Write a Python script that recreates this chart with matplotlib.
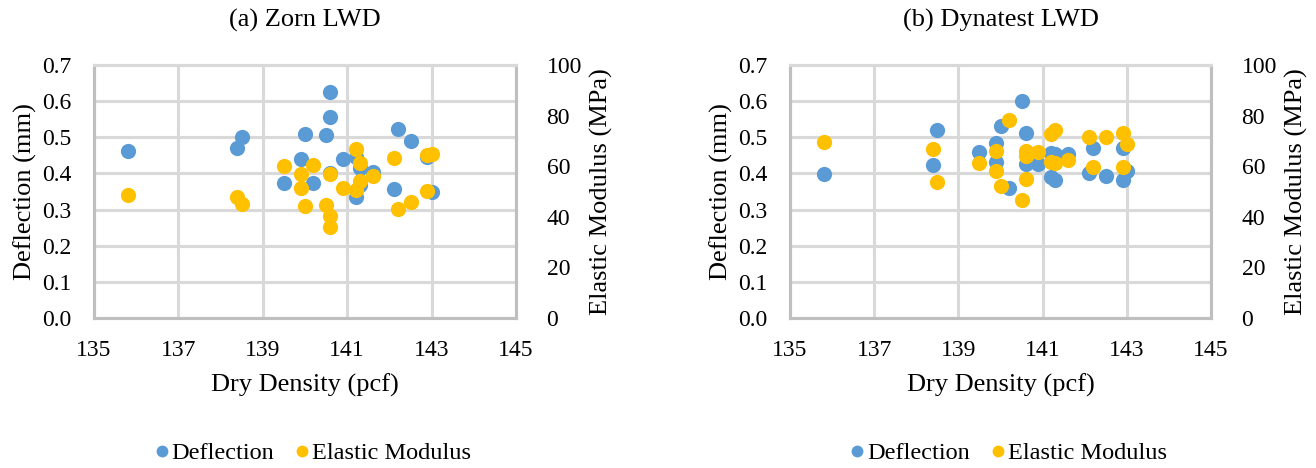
import matplotlib
matplotlib.use("Agg")
import matplotlib.pyplot as plt
from matplotlib.lines import Line2D

plt.rcParams["font.family"] = ["Liberation Serif", "DejaVu Serif"]

# (a) Zorn LWD
zorn_defl_density = [135.8, 138.4, 138.5, 139.5, 139.9, 140.0, 140.2, 140.5, 140.6, 140.6,
                     140.6, 140.9, 141.2, 141.2, 141.3, 141.3, 141.6, 142.1, 142.2, 142.5,
                     142.9, 143.0]
zorn_deflection = [0.462, 0.470, 0.501, 0.374, 0.439, 0.508, 0.373, 0.506, 0.626, 0.557,
                   0.400, 0.439, 0.446, 0.336, 0.414, 0.368, 0.403, 0.356, 0.523, 0.490,
                   0.446, 0.348]
zorn_mod_density = [135.8, 138.4, 138.5, 139.5, 139.9, 139.9, 140.0, 140.2, 140.5, 140.6,
                    140.6, 140.6, 140.9, 141.2, 141.2, 141.3, 141.3, 141.6, 142.1, 142.2,
                    142.5, 142.9, 142.9, 143.0]
zorn_modulus = [48.5, 47.7, 45.0, 60.1, 56.9, 51.3, 44.3, 60.5, 44.7, 56.8,
                40.3, 35.8, 51.3, 66.7, 50.6, 61.1, 54.2, 56.1, 63.4, 43.1,
                46.0, 64.4, 50.3, 64.8]

# (b) Dynatest LWD
dyna_defl_density = [135.8, 138.4, 138.5, 139.5, 139.9, 139.9, 140.0, 140.2, 140.5, 140.6,
                     140.6, 140.9, 141.2, 141.3, 141.2, 141.3, 141.6, 142.1, 142.2, 142.5,
                     142.9, 142.9, 143.0]
dyna_deflection = [0.399, 0.422, 0.519, 0.459, 0.485, 0.431, 0.530, 0.360, 0.601, 0.513,
                   0.425, 0.427, 0.457, 0.455, 0.390, 0.381, 0.453, 0.402, 0.469, 0.393,
                   0.469, 0.383, 0.406]
dyna_mod_density = [135.8, 138.4, 138.5, 139.5, 139.9, 139.9, 140.0, 140.2, 140.5, 140.6,
                    140.6, 140.6, 140.9, 141.2, 141.3, 141.2, 141.3, 141.6, 142.1, 142.2,
                    142.5, 142.9, 142.9, 143.0]
dyna_modulus = [69.7, 66.9, 53.8, 61.2, 66.0, 58.1, 52.1, 78.2, 46.8, 66.0,
                64.0, 54.8, 65.8, 72.6, 74.2, 61.8, 61.4, 62.6, 71.5, 59.6,
                71.7, 73.1, 59.6, 68.9]

titles = ["(a) Zorn LWD", "(b) Dynatest LWD"]
x_ticks = [135, 137, 139, 141, 143, 145]
defl_ticks = [0.0, 0.1, 0.2, 0.3, 0.4, 0.5, 0.6, 0.7]
mod_ticks = [0, 20, 40, 60, 80, 100]

BLUE = "#5B9BD5"
GOLD = "#FFC000"
GRID = "#D9D9D9"
AXIS = "#BFBFBF"
MS = 120
TICK_FS = 17
LABEL_FS = 19

fig = plt.figure(figsize=(13.16, 4.68), dpi=100)
W, H = 1316, 468
boxes = [(94, 516), (790, 1211)]
top, bottom = 65, 318

panels = [
    (zorn_defl_density, zorn_deflection, zorn_mod_density, zorn_modulus),
    (dyna_defl_density, dyna_deflection, dyna_mod_density, dyna_modulus),
]

for (x0, x1), title, (dx, dy, mx, my) in zip(boxes, titles, panels):
    ax = fig.add_axes([x0 / W, 1 - bottom / H, (x1 - x0) / W, (bottom - top) / H])
    ax2 = ax.twinx()

    ax.scatter(dx, dy, s=MS, color=BLUE, linewidths=0, zorder=3)
    ax2.scatter(mx, my, s=MS, color=GOLD, linewidths=0, zorder=3)

    ax.set_xlim(135, 145)
    ax.set_ylim(0, 0.7)
    ax2.set_ylim(0, 100)
    ax.set_xticks(x_ticks)
    ax.set_yticks(defl_ticks)
    ax.set_yticklabels([f"{v:.1f}" for v in defl_ticks])
    ax2.set_yticks(mod_ticks)

    ax.grid(True, color=GRID, linewidth=2.2, zorder=0)
    ax.set_axisbelow(True)
    for a in (ax, ax2):
        a.spines["top"].set_color(GRID)
        a.spines["top"].set_linewidth(2.2)
        for side in ("left", "bottom", "right"):
            a.spines[side].set_color(AXIS)
            a.spines[side].set_linewidth(2.2)
    ax.tick_params(axis="both", length=0, labelsize=TICK_FS, colors="black")
    ax.tick_params(axis="y", pad=16)
    ax.tick_params(axis="x", pad=16)
    ax2.tick_params(axis="y", length=0, labelsize=TICK_FS, pad=22)

    ax.set_xlabel("Dry Density (pcf)", fontsize=LABEL_FS, labelpad=9)
    ax.set_ylabel("Deflection (mm)", fontsize=LABEL_FS, labelpad=4)
    ax2.set_ylabel("Elastic Modulus (MPa)", fontsize=LABEL_FS, labelpad=6)
    ax.set_title(title, fontsize=LABEL_FS, pad=28)

    handles = [
        Line2D([], [], linestyle="none", marker="o", markersize=8.5,
               markerfacecolor=BLUE, markeredgewidth=0, label="Deflection"),
        Line2D([], [], linestyle="none", marker="o", markersize=8.5,
               markerfacecolor=GOLD, markeredgewidth=0, label="Elastic Modulus"),
    ]
    ax.legend(handles=handles, loc="center", bbox_to_anchor=(0.52, -0.535),
              ncol=2, frameon=False, fontsize=17.5, handlelength=0.5,
              handletextpad=0.15, columnspacing=0.9)

fig.savefig("out.png", dpi=100)
